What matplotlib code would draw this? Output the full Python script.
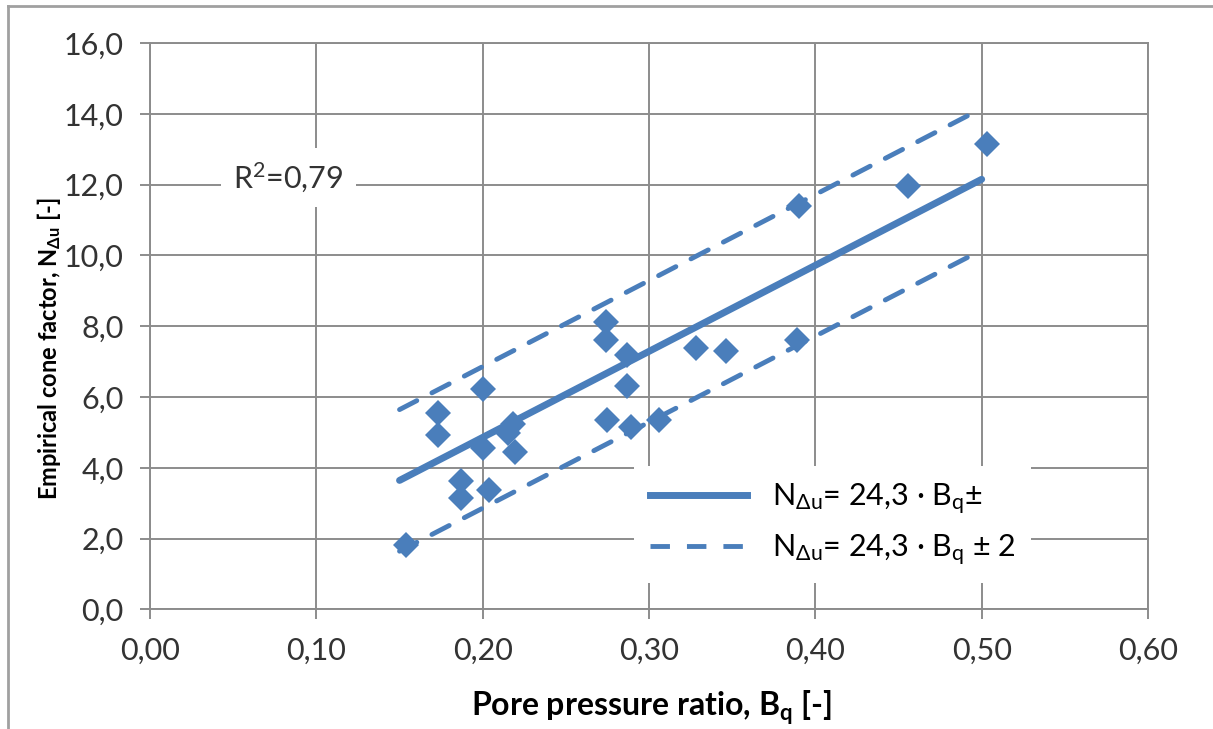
import matplotlib
matplotlib.use("Agg")
import matplotlib.pyplot as plt
from matplotlib.lines import Line2D
from matplotlib.ticker import FuncFormatter, MultipleLocator

plt.rcParams['font.family'] = ['Lato', 'DejaVu Sans']
plt.rcParams['mathtext.fontset'] = 'custom'
plt.rcParams['mathtext.rm'] = 'Lato'
plt.rcParams['mathtext.it'] = 'Lato:italic'
plt.rcParams['mathtext.bf'] = 'Lato:bold'
plt.rcParams['mathtext.fallback'] = 'stixsans'

# data
bq = [0.154, 0.173, 0.173, 0.187, 0.187, 0.200, 0.200, 0.204, 0.215, 0.218,
      0.2195, 0.274, 0.274, 0.287, 0.287, 0.275, 0.289, 0.306, 0.328, 0.346,
      0.389, 0.390, 0.456, 0.503]
n_du = [1.82, 5.55, 4.93, 3.63, 3.15, 6.24, 4.56, 3.38, 4.98, 5.25,
        4.45, 8.12, 7.60, 7.20, 6.30, 5.35, 5.15, 5.35, 7.39, 7.31,
        7.60, 11.40, 11.96, 13.15]

# regressionslinje N = 24,3 * Bq (+/- 2)
fit_x = [0.15, 0.50]
slope = 24.3
spread = 2.0

blue = '#4a7ebb'
grid_grey = '#8c8c8c'

fig = plt.figure(figsize=(12.13, 7.29), dpi=100)
ax = fig.add_axes([0.1237, 0.164, 0.8227, 0.777])

fit_y = [slope * x for x in fit_x]
ax.plot(fit_x, fit_y, color=blue, lw=5, solid_capstyle='round', zorder=3)
ax.plot(fit_x, [y + spread for y in fit_y], color=blue, lw=3.5,
        dashes=(4, 3.5), dash_capstyle='round', zorder=3)
ax.plot(fit_x, [y - spread for y in fit_y], color=blue, lw=3.5,
        dashes=(4, 3.5), dash_capstyle='round', zorder=3)
ax.plot(bq, n_du, 'D', color=blue, ms=13, mew=0, zorder=4)

ax.set_xlim(0, 0.6)
ax.set_ylim(0, 16)
ax.xaxis.set_major_locator(MultipleLocator(0.1))
ax.yaxis.set_major_locator(MultipleLocator(2))
ax.xaxis.set_major_formatter(FuncFormatter(lambda v, p: f"{v:.2f}".replace('.', ',')))
ax.yaxis.set_major_formatter(FuncFormatter(lambda v, p: f"{v:.1f}".replace('.', ',')))
ax.grid(True, color=grid_grey, lw=1.4, zorder=0)
ax.set_axisbelow(True)
for s in ax.spines.values():
    s.set_color(grid_grey)
    s.set_linewidth(1.4)
ax.tick_params(axis='both', colors=grid_grey, width=1.4, length=7,
               labelsize=22, labelcolor='#333333')
ax.tick_params(axis='y', pad=12)
ax.tick_params(axis='x', pad=13)

ax.set_xlabel(r'Pore pressure ratio, B$_{\mathbf{q}}$ [-]', fontsize=23,
              fontweight='bold')
ax.xaxis.set_label_coords(0.503, -0.14)
ax.set_ylabel(r'Empirical cone factor, N$_{\mathbf{\Delta u}}$ [-]', fontsize=17,
              fontweight='bold')
ax.yaxis.set_label_coords(-0.087, 0.46)

ax.text(0.05, 12.19, r'R$^2$=0,79', fontsize=22, color='#333333',
        va='center', ha='left',
        bbox=dict(facecolor='white', edgecolor='none', pad=9), zorder=5)

handles = [Line2D([], [], color=blue, lw=5),
           Line2D([], [], color=blue, lw=3.5, dashes=(4, 3.5))]
labels = [r'N$_{\mathrm{\Delta u}}$= 24,3 · B$_{\mathrm{q}}$±',
          r'N$_{\mathrm{\Delta u}}$= 24,3 · B$_{\mathrm{q}}$ ± 2']
leg = ax.legend(handles, labels, loc='lower left', bbox_to_anchor=(0.47, 0.02),
                fontsize=22, handlelength=3.2, handletextpad=0.8,
                labelspacing=0.5, frameon=True, fancybox=False,
                facecolor='white', edgecolor='none', framealpha=1,
                borderpad=0.5)
leg.set_zorder(6)

# tynn ramme rundt figuren (venstre og topp)
fig.add_artist(Line2D([8 / 1213, 8 / 1213], [0, 1 - 6 / 729],
                      transform=fig.transFigure, color='#a0a0a0', lw=2))
fig.add_artist(Line2D([8 / 1213, 1], [1 - 6 / 729, 1 - 6 / 729],
                      transform=fig.transFigure, color='#a0a0a0', lw=2))

fig.savefig('out.png', dpi=100)
